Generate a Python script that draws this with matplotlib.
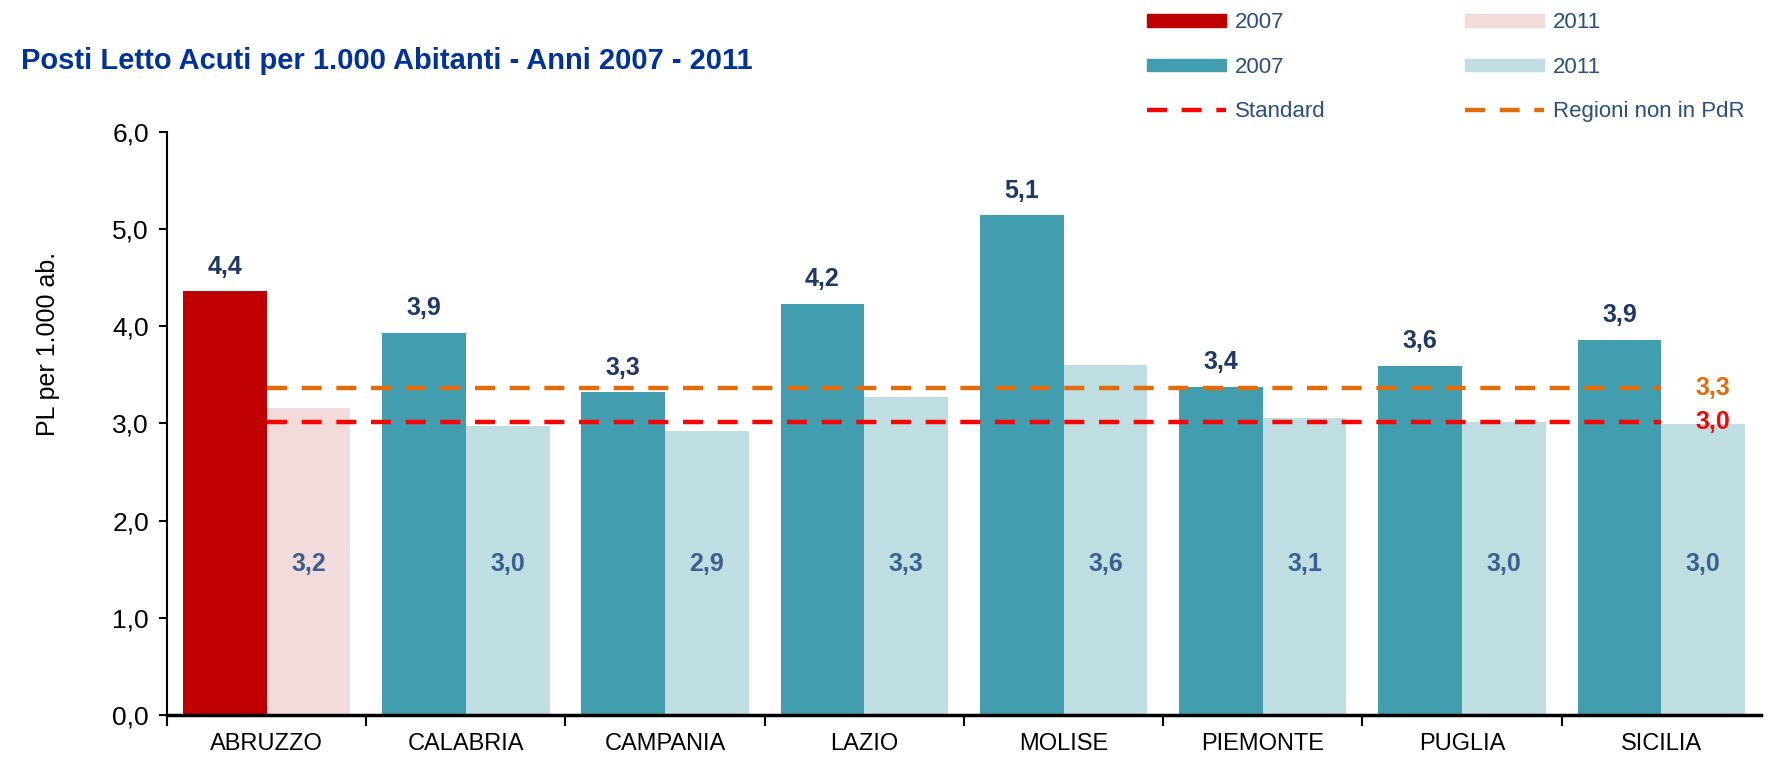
import matplotlib
matplotlib.use("Agg")
import matplotlib.pyplot as plt
from matplotlib.patches import Patch
from matplotlib.lines import Line2D
import numpy as np

# dati
regioni = ["ABRUZZO", "CALABRIA", "CAMPANIA", "LAZIO", "MOLISE", "PIEMONTE", "PUGLIA", "SICILIA"]
pl_2007 = [4.36, 3.93, 3.32, 4.23, 5.14, 3.38, 3.59, 3.86]
pl_2011 = [3.16, 2.97, 2.92, 3.27, 3.60, 3.06, 3.01, 2.99]
etich_2007 = ["4,4", "3,9", "3,3", "4,2", "5,1", "3,4", "3,6", "3,9"]
etich_2011 = ["3,2", "3,0", "2,9", "3,3", "3,6", "3,1", "3,0", "3,0"]
standard = 3.02
non_pdr = 3.36
yticks = [0, 1, 2, 3, 4, 5, 6]

sans = ["Liberation Sans", "DejaVu Sans"]

c07 = ["#C00000"] + ["#429DAE"] * 7
c11 = ["#F2DCDB"] + ["#BEDEE2"] * 7
navy = "#1F3864"
blu11 = "#3D5F8F"
dash = (0, (4.5, 3.3))

fig = plt.figure(figsize=(17.69, 7.58), dpi=100)
ax = fig.add_axes([0.0944, 0.0567, 0.901, 0.7693])

x = np.arange(len(regioni))
w = 0.42
ax.bar(x - w / 2, pl_2007, width=w, color=c07, zorder=2)
ax.bar(x + w / 2, pl_2011, width=w, color=c11, zorder=2)

for i in range(len(regioni)):
    ax.text(x[i] - w / 2, pl_2007[i] + 0.13, etich_2007[i], ha="center", va="bottom",
            fontsize=18, fontweight="bold", color=navy, family=sans, zorder=4)
    ax.text(x[i] + w / 2, 1.55, etich_2011[i], ha="center", va="center",
            fontsize=18, fontweight="bold", color=blu11, family=sans, zorder=4)

ax.plot([x[0], x[-1]], [non_pdr, non_pdr], color="#E36C0A", lw=3.2, ls=dash, zorder=3)
ax.plot([x[0], x[-1]], [standard, standard], color="#FF0000", lw=3.2, ls=dash, zorder=3)
ax.text(7.17, non_pdr, "3,3", color="#E36C0A", fontsize=18, fontweight="bold", va="center", family=sans)
ax.text(7.17, standard, "3,0", color="#FF0000", fontsize=18, fontweight="bold", va="center", family=sans)

ax.set_xlim(-0.5, 7.5)
ax.set_ylim(0, 6)
ax.set_yticks(yticks)
ax.set_yticklabels([f"{v:.1f}".replace(".", ",") for v in yticks], fontsize=19, family=sans)
ax.set_xticks(np.arange(-0.5, 7.0, 1.0))
ax.set_xticklabels([])
ax.set_xticks(x, minor=True)
ax.set_xticklabels(regioni, minor=True, fontsize=17, family=sans)
ax.tick_params(axis="x", which="major", length=8, width=1.5, direction="out")
ax.tick_params(axis="x", which="minor", length=0, pad=13)
ax.tick_params(axis="y", length=6, width=1.5, pad=7)
for s in ["top", "right"]:
    ax.spines[s].set_visible(False)
ax.spines["left"].set_linewidth(1.5)
ax.spines["bottom"].set_linewidth(2.5)
ax.spines["bottom"].set_zorder(5)
ax.set_ylabel("PL per 1.000 ab.", fontsize=18, family=sans)
ax.yaxis.set_label_coords(-0.067, 0.636)

fig.text(0.012, 0.92, "Posti Letto Acuti per 1.000 Abitanti - Anni 2007 - 2011",
         fontsize=21, fontweight="bold", color="#003399", family=sans, va="center")

handles = [
    Patch(color="#C00000", label="2007"),
    Patch(color="#429DAE", label="2007"),
    Line2D([], [], color="#FF0000", lw=3.2, ls=dash, label="Standard"),
    Patch(color="#F2DCDB", label="2011"),
    Patch(color="#BEDEE2", label="2011"),
    Line2D([], [], color="#E36C0A", lw=3.2, ls=dash, label="Regioni non in PdR"),
]
leg = fig.legend(handles=handles, ncol=2, loc="upper left", bbox_to_anchor=(0.637, 1.01),
                 frameon=False, handlelength=3.55, handleheight=0.5,
                 columnspacing=6.3, labelspacing=1.05, handletextpad=0.4,
                 prop={"family": sans, "size": 16})
for t in leg.get_texts():
    t.set_color("#2A4E7F")

fig.savefig("out.png", dpi=100)
